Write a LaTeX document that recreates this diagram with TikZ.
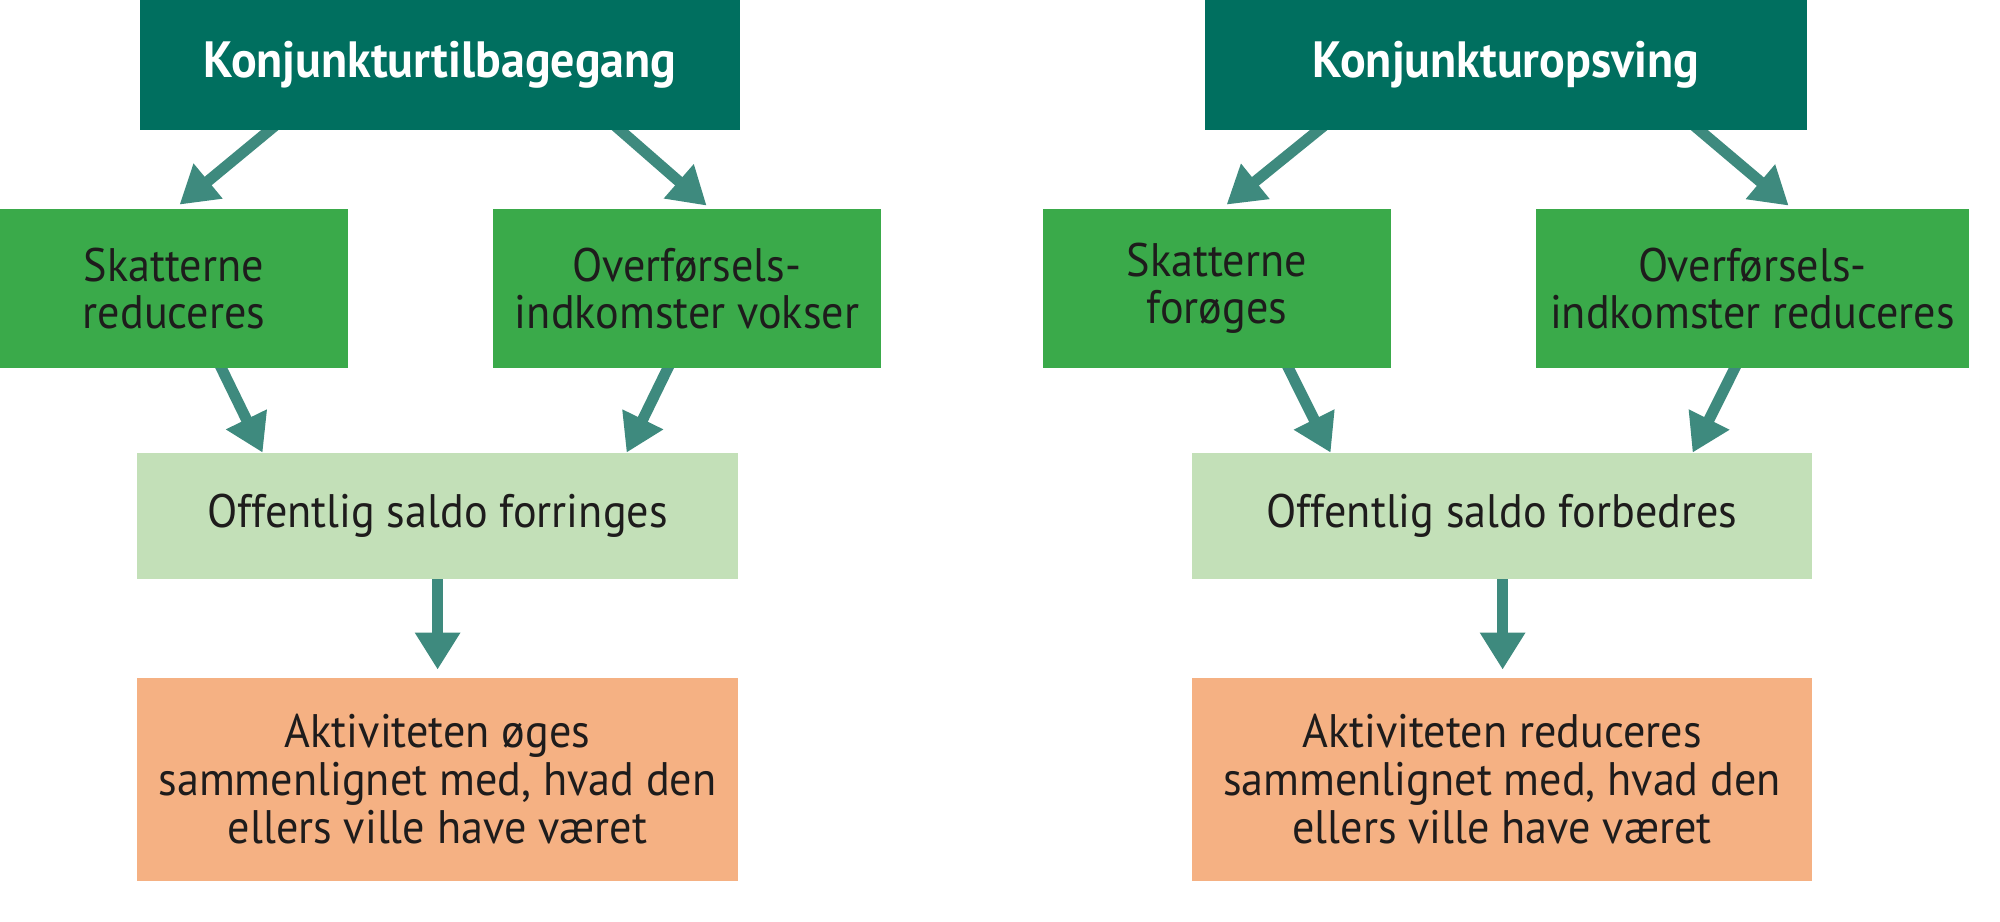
\documentclass[tikz,border=0pt]{standalone}
\usepackage{fontspec}
\setmainfont[FakeStretch=0.94]{PT Sans}
\usetikzlibrary{arrows.meta,calc,backgrounds}
\definecolor{dteal}{HTML}{006F5F}
\definecolor{mgreen}{HTML}{3AAA4A}
\definecolor{lgreen}{HTML}{C3E0B8}
\definecolor{orng}{HTML}{F5B183}
\definecolor{arrc}{HTML}{3E8A7E}
\definecolor{txt}{HTML}{1E1C1C}
\begin{document}
\begin{tikzpicture}[x=0.5pt,y=-0.5pt,
  box/.style={draw=none,inner sep=0pt,align=center,text=txt,font=\fontsize{23.5}{23.5}\selectfont},
  topbox/.style={box,fill=dteal,text=white,font=\fontsize{25.5}{28}\selectfont\bfseries},
  midbox/.style={box,fill=mgreen,minimum height=79.5pt},
  lbox/.style={box,fill=lgreen,minimum height=63pt},
  obox/.style={box,fill=orng,minimum height=101.5pt,font=\fontsize{23.5}{24}\selectfont},
  arr/.style={draw=arrc,line width=5.5pt,-{Triangle[width=21.5pt,length=18.5pt]}}]
\useasboundingbox (0,0) rectangle (2000,921);
% left
\node[topbox,minimum width=300pt,minimum height=65pt] (tL) at (440,65) {Konjunkturtilbagegang};
\node[midbox,minimum width=174pt] (g1L) at (174,288.5) {Skatterne\\reduceres};
\node[midbox,minimum width=194pt] (g2L) at (687,288.5) {Overførsels-\\indkomster vokser};
\node[lbox,minimum width=300.5pt] (lL) at (437.5,516) {Offentlig saldo forringes};
\node[obox,minimum width=300.5pt] (oL) at (437.5,779.5) {Aktiviteten øges\\sammenlignet med, hvad den\\ellers ville have været};
% right
\node[topbox,minimum width=301pt,minimum height=65pt] (tR) at (1506,65) {Konjunkturopsving};
\node[midbox,minimum width=174pt] (g1R) at (1217,288.5) {Skatterne\\forøges};
\node[midbox,minimum width=216.5pt] (g2R) at (1752.5,288.5) {Overførsels-\\indkomster reduceres};
\node[lbox,minimum width=310pt] (lR) at (1502,516) {Offentlig saldo forbedres};
\node[obox,minimum width=310pt] (oR) at (1502,779.5) {Aktiviteten reduceres\\sammenlignet med, hvad den\\ellers ville have været};
\begin{scope}[on background layer]
\draw[arr] ($(tL.south west)+(137,-6)$) -- ($(g1L.north west)+(180,-4)$);
\draw[arr] ($(tL.south west)+(474,-6)$) -- ($(g2L.north west)+(214,-3)$);
\draw[arr] ($(g1L.south west)+(219,-6)$) -- ($(lL.north west)+(126,0)$);
\draw[arr] ($(g2L.south west)+(178,-6)$) -- ($(lL.north west)+(490,0)$);
\draw[arr] ($(lL.south west)+(301,-6)$) -- ($(oL.north west)+(301,-8)$);
\draw[arr] ($(tR.south west)+(121,-6)$) -- ($(g1R.north west)+(184,-4)$);
\draw[arr] ($(tR.south west)+(488,-6)$) -- ($(g2R.north west)+(253,-3)$);
\draw[arr] ($(g1R.south west)+(243,-6)$) -- ($(lR.north west)+(139,0)$);
\draw[arr] ($(g2R.south west)+(202,-6)$) -- ($(lR.north west)+(501,0)$);
\draw[arr] ($(lR.south west)+(311,-6)$) -- ($(oR.north west)+(311,-8)$);
\end{scope}
\end{tikzpicture}
\end{document}
